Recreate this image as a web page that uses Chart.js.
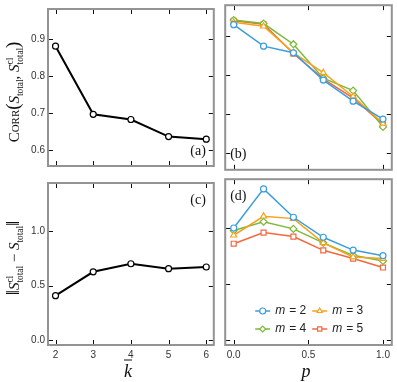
<!DOCTYPE html>
<html>
<head>
<meta charset="utf-8">
<script src="https://cdn.jsdelivr.net/npm/chart.js@4/dist/chart.umd.min.js"></script>
<style>
  body { margin: 0; background: #fff; }
  #wrap { position: relative; width: 397px; height: 382px; overflow: hidden; background: #fff; }
  canvas { position: absolute; }
  .lab { position: absolute; white-space: nowrap; color: #111;
         font-family: 'Liberation Serif', 'DejaVu Serif', serif; transform: translate(-50%, -50%); }
  .rot { transform: translate(-50%, -50%) rotate(-90deg); }
  .sc { font-variant: small-caps; }
  .big { font-size: 1.25em; }
  .ss { display: inline-flex; flex-direction: column; font-size: 0.62em; line-height: 1.0; vertical-align: 0.6em; }
  .sb { font-size: 0.62em; vertical-align: -0.4em; }
</style>
</head>
<body>
<div id="wrap">
  <canvas id="tl" width="219" height="175" style="left:0;top:0"></canvas>
  <canvas id="tr" width="177" height="175" style="left:220px;top:0"></canvas>
  <canvas id="bl" width="219" height="208" style="left:0;top:174px"></canvas>
  <canvas id="br" width="177" height="208" style="left:220px;top:174px"></canvas>

  <div class="lab rot" style="left:14px;top:92px;font-size:15px">
    <span class="sc">Corr</span><span class="big">(</span><i>S</i><span class="sb">total</span>, <i>S</i><span class="ss"><span>cl</span><span>total</span></span><span class="big">)</span>
  </div>
  <div class="lab rot" style="left:14px;top:258px;font-size:15px">
    <span class="big">‖</span><i>S</i><span class="ss"><span>cl</span><span>total</span></span> − <i>S</i><span class="sb">total</span><span class="big">‖</span>
  </div>
  <div class="lab" style="left:128px;top:371px;font-size:18px"><i style="text-decoration:overline">k</i></div>
  <div class="lab" style="left:306px;top:371px;font-size:18px"><i>p</i></div>
</div>

<script>
'use strict'

// data

var kBar = [2, 3, 4, 5, 6];
var corrK = [0.880, 0.697, 0.683, 0.637, 0.630];
var normK = [0.407, 0.626, 0.700, 0.655, 0.670];

var pVals = [0, 0.2, 0.4, 0.6, 0.8, 1.0];
var mLabels = ['2', '3', '4', '5'];

var corrM2 = [0.930, 0.875, 0.858, 0.788, 0.734, 0.688];
var corrM3 = [0.936, 0.926, 0.858, 0.807, 0.746, 0.677];
var corrM4 = [0.942, 0.933, 0.880, 0.793, 0.761, 0.668];
var corrM5 = [0.940, 0.931, 0.856, 0.791, 0.742, 0.674];

var normM2 = [1.003, 1.353, 1.099, 0.920, 0.805, 0.755];
var normM3 = [0.938, 1.108, 1.087, 0.870, 0.743, 0.729];
var normM4 = [0.980, 1.059, 0.995, 0.870, 0.758, 0.708];
var normM5 = [0.862, 0.962, 0.926, 0.803, 0.729, 0.649];

var colors = ['#3b9ddd', '#f5a21e', '#7db83a', '#f2683f'];
var styles = ['circle', 'triangle', 'rectRot', 'rect'];

var tickFont = { family: "'Liberation Sans', Arial, sans-serif", size: 10 };
var tickColor = '#333';

// frame, inward ticks and panel letter

var framePlugin = {
	id: 'frame',
	afterDraw: function(chart, args, opts) {
		var ctx = chart.ctx, a = chart.chartArea, sx = chart.scales.x, sy = chart.scales.y;
		ctx.save();
		ctx.strokeStyle = '#111';
		ctx.lineWidth = 1;
		ctx.beginPath();
		sx.ticks.forEach(function(t) {
			var x = Math.round(sx.getPixelForValue(t.value)) + 0.5;
			ctx.moveTo(x, a.bottom); ctx.lineTo(x, a.bottom - 5);
			ctx.moveTo(x, a.top); ctx.lineTo(x, a.top + 5);
		});
		sy.ticks.forEach(function(t) {
			var y = Math.round(sy.getPixelForValue(t.value)) + 0.5;
			ctx.moveTo(a.left, y); ctx.lineTo(a.left + 5, y);
			ctx.moveTo(a.right, y); ctx.lineTo(a.right - 5, y);
		});
		ctx.stroke();
		ctx.strokeStyle = '#939393';
		ctx.lineWidth = 2;
		ctx.strokeRect(a.left, a.top, a.right - a.left, a.bottom - a.top);

		if (opts.label) {
			ctx.fillStyle = '#111';
			ctx.font = "14px 'Liberation Serif', 'DejaVu Serif', serif";
			ctx.textBaseline = 'middle';
			var right = opts.pos.indexOf('r') >= 0;
			ctx.textAlign = right ? 'right' : 'left';
			var x = right ? a.right - 8 : a.left + 5;
			var y = opts.pos.indexOf('b') >= 0 ? a.bottom - 15 : a.top + 17;
			ctx.fillText(opts.label, x, y);
		}
		ctx.restore();
	}
};

// legend with line + marker, 2 x 2

var legendPlugin = {
	id: 'mlegend',
	afterDraw: function(chart, args, opts) {
		if (!opts.show) return;
		var ctx = chart.ctx, a = chart.chartArea;
		var cols = [a.left + 30, a.left + 87];
		var rows = [a.bottom - 34, a.bottom - 16];
		ctx.save();
		chart.data.datasets.forEach(function(ds, i) {
			var x0 = cols[i % 2], y = rows[Math.floor(i / 2)];
			ctx.strokeStyle = ds.borderColor;
			ctx.lineWidth = 1.5;
			ctx.beginPath();
			ctx.moveTo(x0, y); ctx.lineTo(x0 + 15, y);
			ctx.stroke();
			ctx.fillStyle = '#fff';
			ctx.lineWidth = 1.2;
			Chart.helpers.drawPoint(ctx, { pointStyle: ds.pointStyle, radius: 3, borderWidth: 1.2, rotation: 0 }, x0 + 7.5, y);
			ctx.fillStyle = '#222';
			ctx.textBaseline = 'middle';
			ctx.textAlign = 'left';
			ctx.font = "italic 12px 'Liberation Sans', Arial, sans-serif";
			ctx.fillText('m', x0 + 20, y);
			var w = ctx.measureText('m').width;
			ctx.font = "12px 'Liberation Sans', Arial, sans-serif";
			ctx.fillText('= ' + mLabels[i], x0 + 20 + w + 4, y);
		});
		ctx.restore();
	}
};

function kDataset(vals) {
	return [{
		data: kBar.map(function(k, i) { return { x: k, y: vals[i] }; }),
		borderColor: '#000',
		borderWidth: 2,
		pointBackgroundColor: '#fff',
		pointBorderColor: '#000',
		pointBorderWidth: 1.2,
		pointRadius: 3
	}];
}

function mDatasets(series) {
	return series.map(function(vals, i) {
		return {
			label: 'm = ' + mLabels[i],
			data: pVals.map(function(p, j) { return { x: p, y: vals[j] }; }),
			borderColor: colors[i],
			borderWidth: 1.5,
			pointStyle: styles[i],
			pointBackgroundColor: '#fff',
			pointBorderColor: colors[i],
			pointBorderWidth: 1.2,
			pointRadius: i === 0 ? 3 : 3.5
		};
	});
}

function makeChart(id, datasets, o) {
	return new Chart(document.getElementById(id), {
		type: 'line',
		data: { datasets: datasets },
		plugins: [framePlugin, legendPlugin],
		options: {
			responsive: false,
			animation: false,
			devicePixelRatio: 1,
			layout: { padding: o.padding },
			plugins: {
				legend: { display: false },
				tooltip: { enabled: false },
				frame: { label: o.label, pos: o.pos },
				mlegend: { show: !!o.legend }
			},
			scales: {
				x: {
					type: 'linear', min: o.xmin, max: o.xmax,
					grid: { display: false, drawTicks: false }, border: { display: false },
					ticks: {
						display: o.xlabels, stepSize: o.xstep, includeBounds: false,
						font: tickFont, color: tickColor, padding: 4, maxRotation: 0,
						callback: o.xfmt
					},
					afterFit: function(s) { s.height = o.xh; }
				},
				y: {
					type: 'linear', min: o.ymin, max: o.ymax,
					grid: { display: false, drawTicks: false }, border: { display: false },
					ticks: {
						display: o.ylabels, stepSize: o.ystep, includeBounds: false,
						font: tickFont, color: tickColor, padding: 3,
						callback: function(v) { return v.toFixed(1); }
					},
					afterFit: function(s) { s.width = o.yw; }
				}
			}
		}
	});
}

var intFmt = function(v) { return String(v); };
var oneFmt = function(v) { return v.toFixed(1); };

makeChart('tl', kDataset(corrK), {
	padding: { left: 0, top: 3, right: 3, bottom: 3 },
	xmin: 1.8, xmax: 6.2, xstep: 1, xlabels: false, xh: 0, xfmt: intFmt,
	ymin: 0.558, ymax: 0.98, ystep: 0.1, ylabels: true, yw: 48,
	label: '(a)', pos: 'br'
});

makeChart('tr', mDatasets([corrM2, corrM3, corrM4, corrM5]), {
	padding: { left: 3, top: 3, right: 4, bottom: 3 },
	xmin: -0.057, xmax: 1.059, xstep: 0.5, xlabels: false, xh: 0, xfmt: oneFmt,
	ymin: 0.558, ymax: 0.98, ystep: 0.1, ylabels: false, yw: 0,
	label: '(b)', pos: 'bl'
});

makeChart('bl', kDataset(normK), {
	padding: { left: 0, top: 3, right: 3, bottom: 0 },
	xmin: 1.8, xmax: 6.2, xstep: 1, xlabels: true, xh: 37, xfmt: intFmt,
	ymin: -0.045, ymax: 1.44, ystep: 0.5, ylabels: true, yw: 48,
	label: '(c)', pos: 'tr'
});

makeChart('br', mDatasets([normM2, normM3, normM4, normM5]), {
	padding: { left: 3, top: 3, right: 4, bottom: 0 },
	xmin: -0.057, xmax: 1.059, xstep: 0.5, xlabels: true, xh: 37, xfmt: oneFmt,
	ymin: -0.045, ymax: 1.44, ystep: 0.5, ylabels: false, yw: 0,
	label: '(d)', pos: 'tl', legend: true
});
</script>
</body>
</html>
